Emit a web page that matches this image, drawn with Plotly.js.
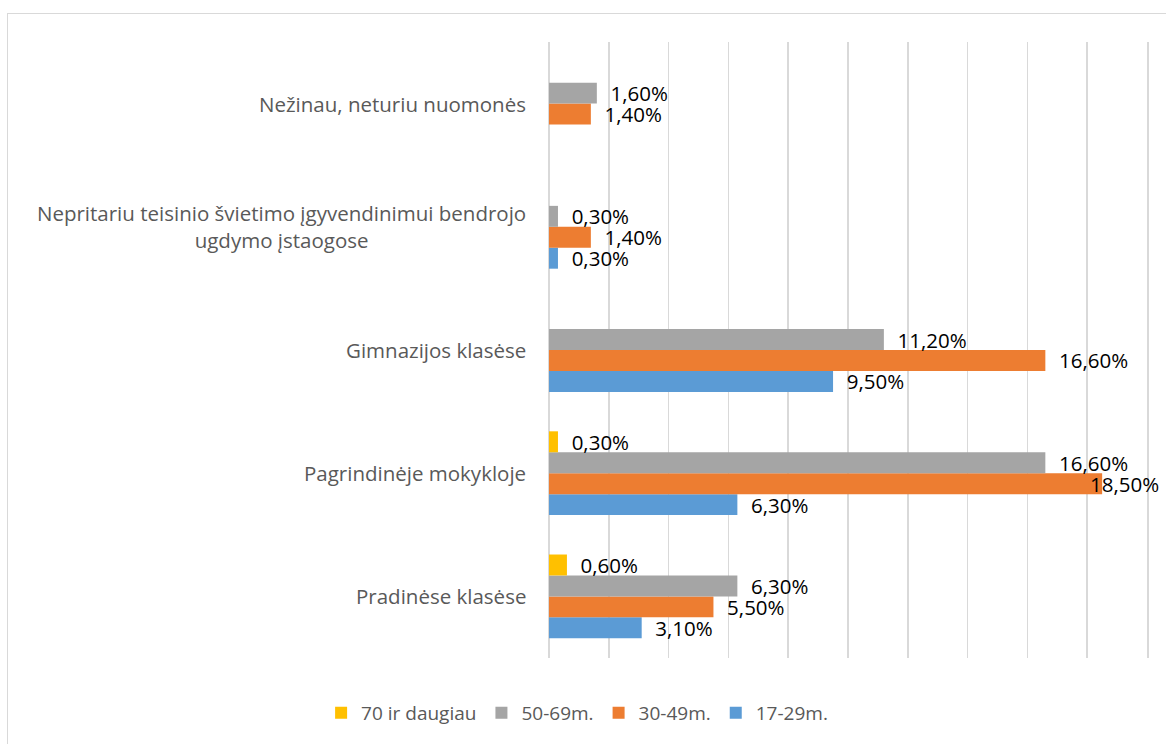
<!DOCTYPE html>
<html>
<head>
<meta charset="utf-8">
<script src="https://cdn.plot.ly/plotly-3.0.1.min.js"></script>
<style>
  html, body { margin: 0; padding: 0; background: #fff; overflow: hidden; }
  #wrap { position: relative; width: 1166px; height: 744px; }
  #frame { position: absolute; left: 7px; top: 13px; width: 1200px; height: 800px; border: 1px solid #D9D9D9; box-sizing: border-box; pointer-events: none; }
  #chart { position: absolute; left: 0; top: 0; width: 1166px; height: 744px; }
</style>
</head>
<body>
<div id="wrap">
  <div id="frame"></div>
  <div id="chart"></div>
</div>
<script>
// Categories (bottom to top as drawn)
const categories = [
  "Pradinėse klasėse",
  "Pagrindinėje mokykloje",
  "Gimnazijos klasėse",
  "Nepritariu teisinio švietimo įgyvendinimui bendrojo<br>ugdymo įstaogose",
  "Nežinau, neturiu nuomonės"
];
const seriesNames = ["17-29m.", "30-49m.", "50-69m.", "70 ir daugiau"];
const v17_29 = [3.1, 6.3, 9.5, 0.3, null];
const v30_49 = [5.5, 18.5, 16.6, 1.4, 1.4];
const v50_69 = [6.3, 16.6, 11.2, 0.3, 1.6];
const v70plus = [0.6, 0.3, null, null, null];
const seriesColors = ["#5B9BD5", "#ED7D31", "#A5A5A5", "#FFC000"];

const allValues = [v17_29, v30_49, v50_69, v70plus];
const xMax = 20;
const bargap = 0.32;
const labelFont = { family: "Open Sans, sans-serif", size: 20.5, color: "#000000" };
const fmtNum = v => v.toFixed(2).replace(".", ",") + "%";
// labels near the right edge are pulled back over the bar end (like the original)
const nearEdge = v => v !== null && v > xMax - 2.5;
const fmt = v => (v === null || nearEdge(v) ? "" : "\u00a0\u00a0" + fmtNum(v));

const traces = allValues.map((vals, i) => ({
  type: "bar",
  orientation: "h",
  name: seriesNames[i],
  x: vals,
  y: categories,
  marker: { color: seriesColors[i] },
  text: vals.map(fmt),
  textposition: "outside",
  textfont: labelFont,
  constraintext: "none",
  cliponaxis: false,
  hoverinfo: "x+name"
}));

const annotations = categories.map(c => ({
  text: c,
  xref: "paper",
  yref: "y",
  x: -0.035,
  y: c,
  xanchor: "right",
  yanchor: "middle",
  align: "center",
  showarrow: false,
  font: { family: "Open Sans, sans-serif", size: 20.5, color: "#595959" }
}));

// edge labels placed as annotations in the bar's slot of its group
const nTr = allValues.length;
const slot = (1 - bargap) / nTr;
allValues.forEach((vals, i) => {
  vals.forEach((v, j) => {
    if (nearEdge(v)) {
      annotations.push({
        text: fmtNum(v),
        xref: "x",
        yref: "y",
        x: v,
        y: j - (1 - bargap) / 2 + slot * (i + 0.5),
        xanchor: "left",
        yanchor: "middle",
        xshift: -14,
        showarrow: false,
        font: labelFont
      });
    }
  });
});

const layout = {
  width: 1166,
  height: 744,
  margin: { l: 549, r: 19, t: 42, b: 84 },
  paper_bgcolor: "rgba(0,0,0,0)",
  plot_bgcolor: "#ffffff",
  barmode: "group",
  bargap: bargap,
  bargroupgap: 0,
  showlegend: true,
  legend: {
    orientation: "h",
    traceorder: "reversed",
    x: 0.047,
    xanchor: "center",
    y: -0.089,
    yanchor: "middle",
    font: { family: "Open Sans, sans-serif", size: 19, color: "#595959" },
    itemwidth: 30
  },
  xaxis: {
    range: [0, xMax],
    dtick: 2,
    showgrid: true,
    gridcolor: "#D9D9D9",
    gridwidth: 1.5,
    zeroline: true,
    zerolinecolor: "#D9D9D9",
    zerolinewidth: 1.5,
    showticklabels: false,
    showline: false,
    ticks: "",
    fixedrange: true
  },
  yaxis: {
    type: "category",
    categoryorder: "array",
    categoryarray: categories,
    showticklabels: false,
    showgrid: false,
    zeroline: false,
    showline: true,
    mirror: true,
    linecolor: "#D9D9D9",
    linewidth: 1.5,
    ticks: "",
    fixedrange: true
  },
  annotations: annotations
};

Plotly.newPlot("chart", traces, layout, { displayModeBar: false, staticPlot: true });
</script>
</body>
</html>
